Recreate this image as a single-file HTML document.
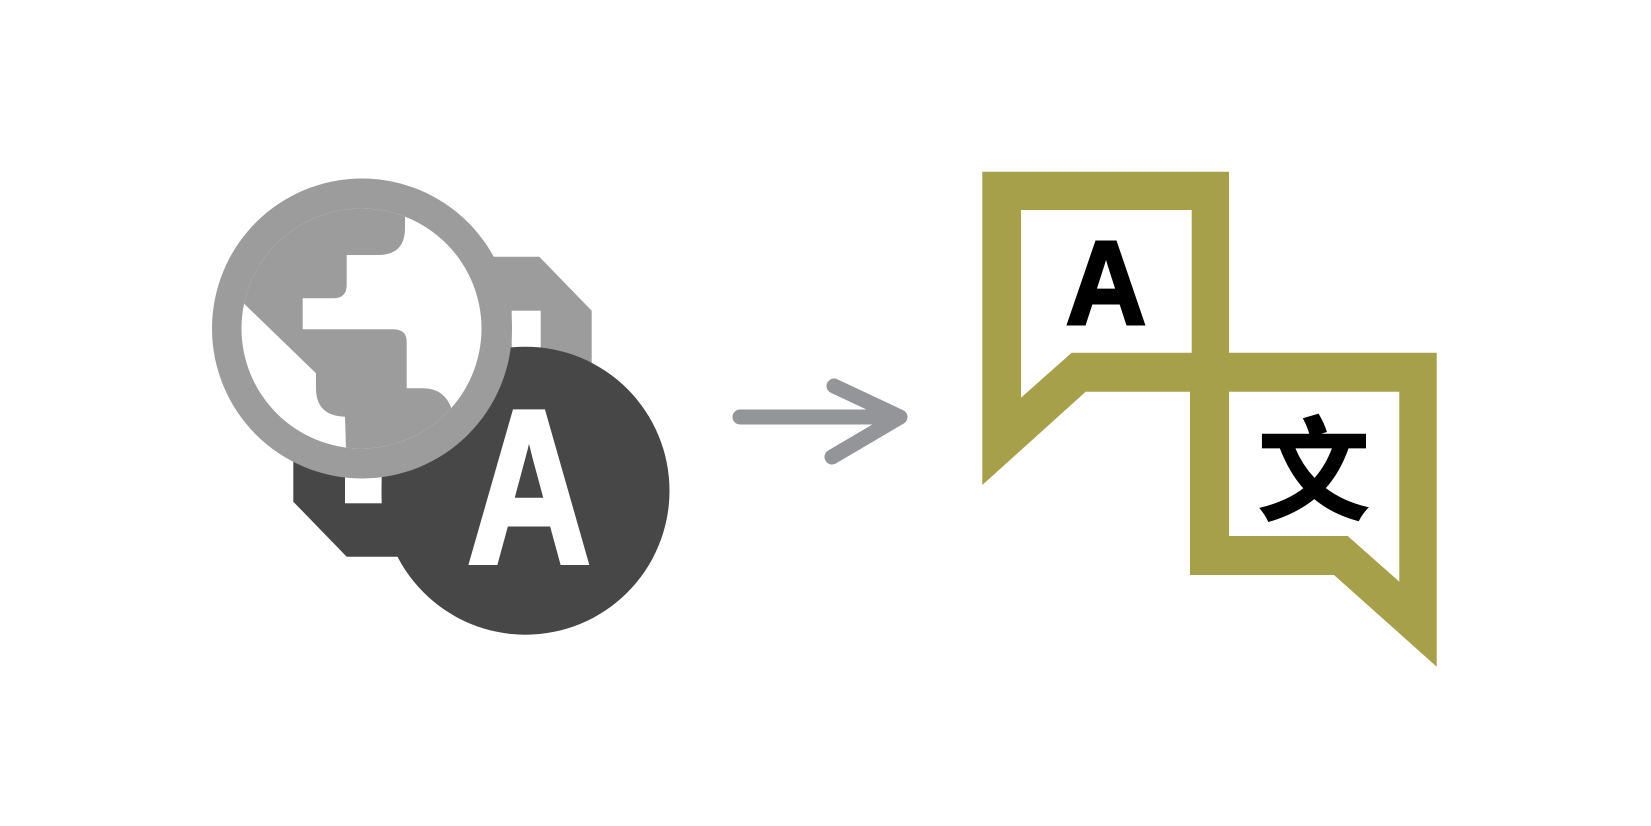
<!DOCTYPE html>
<html><head><meta charset="utf-8"><style>
html,body{margin:0;padding:0;background:#fff;}
svg{display:block;}
.b{font-family:"Liberation Sans",sans-serif;font-weight:700;}
.c{font-family:"Noto Sans CJK SC","WenQuanYi Zen Hei",sans-serif;font-weight:700;}
</style></head><body>
<svg width="1651" height="826" viewBox="0 0 1651 826" xmlns="http://www.w3.org/2000/svg">
<defs>
<clipPath id="inner"><circle cx="361.5" cy="328.5" r="120"/></clipPath>
</defs>
<polygon points="420,256.7 539.3,256.7 591.7,310.7 591.7,470 420,470" fill="#9c9c9c"/>
<rect x="511.7" y="310.7" width="29" height="60" fill="#fff"/>
<polygon points="293.3,430 430,430 430,556.7 346.7,556.7 293.3,501.7" fill="#474747"/>
<rect x="345" y="440" width="36.7" height="63.3" fill="#fff"/>
<circle cx="525.5" cy="490.7" r="144" fill="#474747"/>
<text class="b" x="529" y="562.5" font-size="219" fill="#fff" stroke="#fff" stroke-width="5" text-anchor="middle" transform="translate(529 0) scale(0.785 1) translate(-529 0)">A</text>
<circle cx="362" cy="328.5" r="150" fill="#9c9c9c"/>
<g clip-path="url(#inner)">
<circle cx="361.5" cy="328.5" r="121" fill="#fff"/>
<path d="M405,150 L405,228 Q405,255 378,255 L346.7,255 L346.7,285 Q346.7,298.3 333,298.3 L302.7,298.3 L302.7,329.3 L393,329.3 Q406.7,329.3 406.7,341.7 L406.7,388.3 L423,388.3 Q445,388.3 452,410 L470,470 L346.7,470 L345,416.7 Q316,416 316,388.3 L316,373.3 L230,290 L230,150 Z" fill="#9c9c9c"/>
</g>
<g stroke="#939598" stroke-width="15" stroke-linecap="round" stroke-linejoin="round" fill="none">
<line x1="740" y1="417" x2="898" y2="417"/>
<polyline points="834,386 900,417 832,457"/>
</g>
<polygon points="982.3,171.7 1229,171.7 1229,352.7 1436.7,352.7 1436.7,666.7 1334,575 1190,575 1190,391.7 1085.7,391.7 982.3,485" fill="#a6a04b"/>
<polygon points="1021,210 1191.7,210 1191.7,352.7 1071.7,352.7 1021,397.7" fill="#fff"/>
<polygon points="1229,391.7 1399.3,391.7 1399.3,581.7 1347.7,536 1229,536" fill="#fff"/>
<text class="b" x="1106" y="324" font-size="119" fill="#000" stroke="#000" stroke-width="3" text-anchor="middle" transform="translate(1106 0) scale(0.94 1) translate(-1106 0)">A</text>
<text class="c" x="1313.7" y="463" font-size="112" fill="#000" stroke="#000" stroke-width="1.5" text-anchor="middle" dominant-baseline="central">文</text>
</svg>
</body></html>
